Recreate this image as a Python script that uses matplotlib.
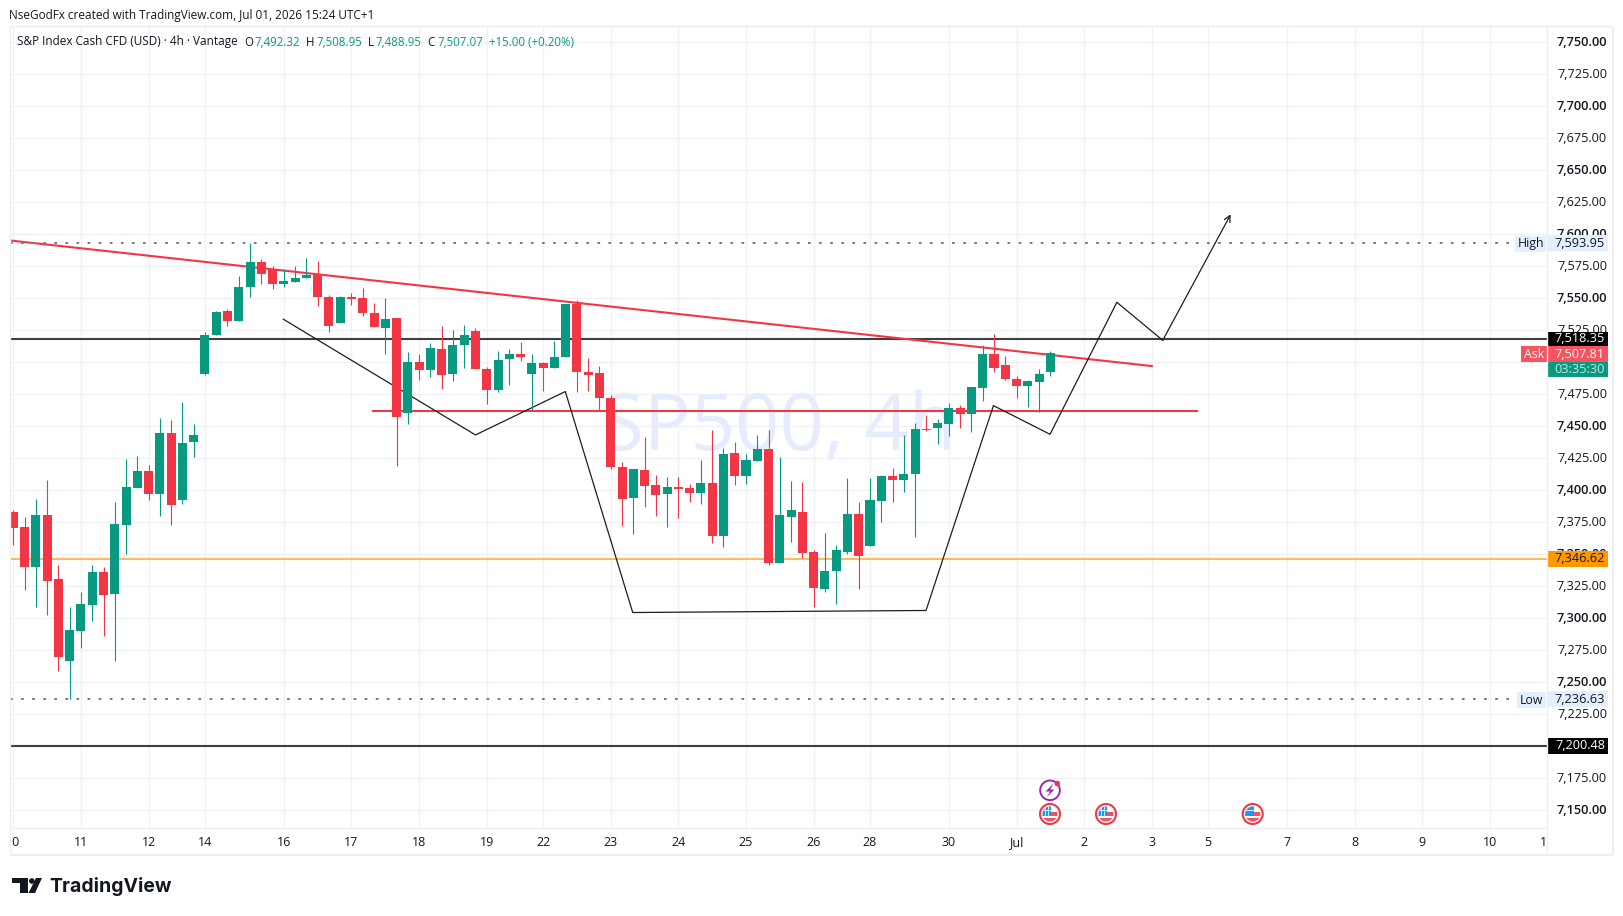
import matplotlib
matplotlib.use('Agg')
import matplotlib.pyplot as plt
from matplotlib.patches import Rectangle, Circle, Polygon

# 4h candles
opens = [7383.1, 7371.4, 7340.4, 7380.8, 7330.7, 7266.9, 7290.3, 7310.7, 7336.2, 7319.3,
         7373.2, 7402.1, 7415.2, 7397.4, 7444.9, 7392.0, 7437.3, 7491.0, 7521.0, 7540.2,
         7531.9, 7558.5, 7578.6, 7572.3, 7560.8, 7562.4, 7565.5, 7568.4, 7551.2, 7530.4,
         7551.2, 7550.4, 7538.7, 7526.4, 7534.8, 7460.0, 7500.4, 7493.6, 7510.5, 7490.5,
         7513.1, 7524.6, 7494.9, 7478.0, 7502.2, 7506.6, 7490.5, 7499.6, 7495.1, 7503.7,
         7545.7, 7492.5, 7491.8, 7472.2, 7418.3, 7394.3, 7415.9, 7404.2, 7397.4, 7402.6,
         7401.9, 7398.2, 7405.8, 7364.6, 7429.2, 7411.5, 7423.2, 7432.3, 7343.5, 7379.4,
         7383.1, 7351.8, 7323.0, 7336.6, 7352.0, 7381.7, 7356.7, 7391.8, 7411.4, 7408.3,
         7413.0, 7448.1, 7448.9, 7452.0, 7464.5, 7459.9, 7480.2, 7506.8, 7498.2, 7487.2,
         7481.7, 7484.9, 7492.32]
highs = [7384.7, 7379.2, 7393.3, 7408.1, 7341.7, 7308.8, 7320.6, 7341.7, 7340.1, 7390.9,
         7424.6, 7426.9, 7419.9, 7456.6, 7455.0, 7469.1, 7451.9, 7523.8, 7540.2, 7541.8,
         7567.6, 7593.0, 7580.9, 7575.4, 7573.1, 7575.4, 7581.7, 7579.3, 7552.8, 7552.0,
         7554.3, 7558.2, 7546.5, 7550.4, 7534.8, 7508.2, 7506.6, 7515.2, 7528.5, 7525.4,
         7529.3, 7526.9, 7496.4, 7509.0, 7510.5, 7516.0, 7506.6, 7500.4, 7516.8, 7545.7,
         7548.8, 7503.5, 7497.2, 7474.6, 7422.2, 7416.7, 7441.7, 7412.0, 7410.4, 7410.4,
         7405.0, 7423.7, 7447.2, 7433.1, 7437.8, 7428.4, 7443.3, 7447.2, 7426.1, 7407.3,
         7406.5, 7353.4, 7366.8, 7357.4, 7409.8, 7391.1, 7409.8, 7412.2, 7417.6, 7443.4,
         7452.8, 7459.1, 7456.0, 7468.5, 7466.9, 7481.0, 7513.8, 7522.4, 7505.2, 7489.6,
         7486.4, 7495.0, 7508.95]
lows = [7357.3, 7322.1, 7309.1, 7302.6, 7258.8, 7236.63, 7276.8, 7297.9, 7286.2, 7266.6,
        7350.3, 7402.1, 7392.5, 7380.0, 7372.9, 7389.4, 7426.1, 7490.2, 7521.0, 7528.5,
        7531.9, 7551.2, 7561.4, 7557.5, 7559.0, 7562.4, 7565.5, 7544.2, 7523.8, 7530.4,
        7544.9, 7536.3, 7527.2, 7506.6, 7419.1, 7452.1, 7486.3, 7488.6, 7479.2, 7485.5,
        7495.7, 7494.4, 7467.5, 7476.9, 7482.4, 7501.1, 7462.8, 7477.7, 7495.1, 7503.7,
        7476.9, 7477.7, 7462.8, 7416.7, 7372.1, 7365.9, 7387.0, 7380.0, 7371.4, 7378.4,
        7390.9, 7389.3, 7358.8, 7355.7, 7404.2, 7405.0, 7423.2, 7341.6, 7343.5, 7359.6,
        7347.1, 7308.8, 7320.7, 7311.3, 7350.4, 7323.0, 7356.7, 7375.4, 7391.1, 7398.9,
        7363.7, 7446.6, 7436.4, 7442.7, 7448.9, 7445.8, 7470.0, 7492.7, 7486.4, 7472.4,
        7465.3, 7461.4, 7488.95]
closes = [7370.9, 7340.4, 7380.8, 7329.4, 7270.0, 7290.9, 7311.2, 7336.2, 7318.5, 7373.7,
          7402.7, 7415.2, 7397.4, 7444.9, 7388.8, 7437.1, 7443.3, 7521.5, 7539.5, 7531.9,
          7559.0, 7578.6, 7568.7, 7560.8, 7563.7, 7566.1, 7568.4, 7550.7, 7528.0, 7551.2,
          7549.1, 7538.2, 7527.2, 7534.0, 7456.9, 7500.4, 7493.6, 7511.3, 7489.7, 7513.6,
          7521.5, 7494.4, 7478.0, 7501.9, 7506.6, 7503.7, 7499.6, 7495.1, 7504.3, 7545.7,
          7492.0, 7489.7, 7471.7, 7417.8, 7393.5, 7416.7, 7403.7, 7395.9, 7402.6, 7401.1,
          7398.2, 7405.8, 7364.6, 7428.4, 7411.5, 7423.7, 7432.3, 7343.5, 7380.7, 7384.6,
          7351.3, 7323.9, 7337.1, 7353.5, 7381.7, 7348.8, 7392.6, 7411.4, 7408.3, 7413.0,
          7448.1, 7447.3, 7452.8, 7464.5, 7459.9, 7481.0, 7506.8, 7495.8, 7487.2, 7481.7,
          7485.7, 7491.1, 7507.07]

# time axis
date_bars = [0, 6, 12, 17, 24, 30, 36, 42, 47, 53, 59, 65, 71, 76, 83, 89, 95, 101, 106, 113, 119, 125, 131, 136.1]
date_labels = ['10', '11', '12', '14', '16', '17', '18', '19', '22', '23', '24', '25', '26', '28', '30',
               'Jul', '2', '3', '5', '7', '8', '9', '10', '11']

# price axis
price_ticks = [7150, 7175, 7200, 7225, 7250, 7275, 7300, 7325, 7350, 7375, 7400, 7425, 7450,
               7475, 7500, 7525, 7550, 7575, 7600, 7625, 7650, 7675, 7700, 7725, 7750]
hidden_ticks = [7200, 7500]  # sit fully behind the level boxes

# levels
black_levels = [7518.35, 7200.48]
orange_level = 7346.62
ask_price = 7507.81
high_price = 7593.95
high_line = 7592.9
low_price = 7236.63

# drawings (bar index, price)
trend_x = [-0.3, 101.0]
trend_y = [7595.1, 7497.0]
support_x = [31.9, 105.0]
support_y = [7461.9, 7461.9]
pattern_x = [23.95, 41.0, 48.97, 54.95, 80.97, 86.95, 91.97, 97.9, 101.97]
pattern_y = [7533.6, 7443.2, 7477.1, 7304.5, 7306.1, 7466.1, 7443.7, 7546.8, 7517.1]
arrow_tip = (108.0, 7615.5)

GREEN = '#089981'
RED = '#f23645'
GRID = '#f0f1f4'
TEXT = '#131722'

plt.rcParams['font.family'] = ['Open Sans', 'DejaVu Sans']

W, H = 1623, 916
fig = plt.figure(figsize=(W / 100, H / 100), dpi=100, facecolor='white')


def px_axes(left, top, right, bottom):
    return fig.add_axes([left / W, 1 - bottom / H, (right - left) / W, (bottom - top) / H])


ax = px_axes(10, 26, 1547, 828)
ax.set_xticks(date_bars)
ax.set_yticks(price_ticks)
# limits after the ticks, set_xticks widens the view otherwise
ax.set_xlim(-0.295, 136.06)
ax.set_ylim(7136.2, 7762.6)
ax.grid(True, color=GRID, lw=1)
ax.set_axisbelow(True)
ax.tick_params(length=0, labelbottom=False, labelleft=False)
for s in ax.spines.values():
    s.set_visible(False)

# watermark
ax.text(0.5, 0.497, 'SP500, 4h', transform=ax.transAxes, ha='center', va='center',
        fontsize=56, color='#e6ebfd', zorder=1)

# levels and drawings go under the candles
xl = ax.get_xlim()
ax.hlines(black_levels, xl[0], xl[1], color='#3f3f3f', lw=1.5, zorder=2)
ax.hlines(orange_level, xl[0], xl[1], color='#ffb95e', lw=1.5, zorder=2)
ax.plot(trend_x, trend_y, color=RED, lw=1.5, zorder=2)
ax.plot(support_x, support_y, color=RED, lw=1.5, zorder=2)
ax.plot(pattern_x, pattern_y, color='#1e1e1e', lw=0.9, zorder=2)
ax.annotate('', xy=arrow_tip, xytext=(pattern_x[-1], pattern_y[-1]), zorder=2,
            arrowprops=dict(arrowstyle='->', color='#1e1e1e', lw=0.9, mutation_scale=11,
                            shrinkA=0, shrinkB=0))
high_x = [xl[0], 133.3]
ax.plot(high_x, [high_line, high_line], color='#787b86', lw=1.4, ls=(0, (1.4, 4.3)), zorder=2)
ax.plot(high_x, [low_price, low_price], color='#787b86', lw=1.4, ls=(0, (1.4, 4.3)), zorder=2)

# candles
bars = range(len(opens))
colors = [GREEN if c >= o else RED for o, c in zip(opens, closes)]
ax.vlines(bars, lows, highs, color=colors, lw=0.8, zorder=3)
ax.bar(bars, [abs(c - o) for o, c in zip(opens, closes)], bottom=[min(o, c) for o, c in zip(opens, closes)],
       width=0.8, color=colors, lw=0, zorder=4)
ax.set_xlim(-0.295, 136.06)

# date labels, clipped at the pane edges like the screenshot
tax = px_axes(10, 828, 1547, 855)
tax.set_xlim(-0.295, 136.06)
tax.set_ylim(0, 1)
tax.axis('off')
for b, lab in zip(date_bars, date_labels):
    tax.text(b, 0.46, lab, ha='center', va='center', fontsize=9, color=TEXT, clip_on=True)

# price scale
pax = px_axes(1547, 26, 1613, 855)
pax.set_xlim(1547, 1613)
pax.set_ylim(ax.get_ylim()[0] - 27 / 1.2805, ax.get_ylim()[1])
pax.axis('off')
for p in price_ticks:
    if p in hidden_ticks:
        continue
    pax.text(1607, p - 0.4, f'{p:,.2f}', ha='right', va='center', fontsize=9.2, color=TEXT,
             weight='semibold' if p % 50 == 0 else 'normal', zorder=2)


def price_box(price, label, bg, fg, y_shift=0.0, h=15):
    y = price + y_shift
    dh = h / 1.2805
    pax.add_patch(Rectangle((1548, y - dh / 2), 60, dh, color=bg, lw=0, zorder=3))
    pax.text(1580, y, label, ha='center', va='center', fontsize=9.2, color=fg, zorder=4)


price_box(high_line, f'{high_price:,.2f}', '#e3effd', TEXT, h=16)
price_box(low_price, f'{low_price:,.2f}', '#e3effd', TEXT, h=16)
price_box(black_levels[0], f'{black_levels[0]:,.2f}', '#000000', 'white', h=14)
price_box(black_levels[1], f'{black_levels[1]:,.2f}', '#000000', 'white', h=16)
price_box(orange_level, f'{orange_level:,.2f}', '#ff9800', TEXT, h=16)
price_box(ask_price, f'{ask_price:,.2f}', '#f7525f', 'white', y_shift=-1.4, h=16)
price_box(ask_price, '03:35:30', GREEN, '#c2e6df', y_shift=-13.7, h=15)

# chrome in pixel coordinates
ov = fig.add_axes([0, 0, 1, 1], zorder=10)
ov.set_xlim(0, W)
ov.set_ylim(H, 0)
ov.axis('off')
ov.patch.set_alpha(0)

for x0, y0, x1, y1 in [(10, 26, 1613, 26), (10, 855, 1613, 855), (10, 26, 10, 855),
                       (1613, 26, 1613, 855), (1547, 26, 1547, 855), (10, 828, 1547, 828)]:
    ov.plot([x0, x1], [y0, y1], color='#eceef2', lw=1.4 if y0 == 855 or x0 == 1613 else 1, solid_capstyle='butt')

ov.text(9, 15, 'NseGodFx created with TradingView.com, Jul 01, 2026 15:24 UTC+1', fontsize=8.5,
        color=TEXT, va='center')
ov.text(17, 42, 'S&P Index Cash CFD (USD) · 4h · Vantage', fontsize=8.5, color=TEXT, va='center')
for x, key, val in [(244, 'O', '7,492.32'), (306, 'H', '7,508.95'), (368, 'L', '7,488.95'), (427, 'C', '7,507.07')]:
    ov.text(x, 42, key, fontsize=8.3, color=TEXT, va='center')
    ov.text(x + (10 if key != 'L' else 7), 42, val, fontsize=8.3, color=GREEN, va='center')
ov.text(489, 42, '+15.00 (+0.20%)', fontsize=8.3, color=GREEN, va='center')

# High / Low / Ask tags
ov.add_patch(Rectangle((1515, 235.5), 31, 16, color='#e3effd', lw=0))
ov.text(1531, 243.5, 'High', ha='center', va='center', fontsize=8.8, color=TEXT)
ov.add_patch(Rectangle((1517, 692), 29, 16, color='#e3effd', lw=0))
ov.text(1531.5, 700.5, 'Low', ha='center', va='center', fontsize=8.8, color=TEXT)
ov.add_patch(Rectangle((1521, 346), 26, 16, color='#f7525f', lw=0))
ov.text(1534, 354, 'Ask', ha='center', va='center', fontsize=8.8, color='white')


def flag(cx, cy):
    ov.add_patch(Circle((cx, cy), 10, fc='white', ec=RED, lw=1.5))
    clip = Circle((cx, cy), 7.6, transform=ov.transData)
    parts = [Rectangle((cx - 1, cy - 2), 9, 3.8, color='#f0555f', lw=0),
             Rectangle((cx - 8, cy + 3.6), 16, 4.4, color='#f0555f', lw=0),
             Rectangle((cx - 8, cy - 8), 9, 9.5, color='#2196f3', lw=0),
             Rectangle((cx - 5, cy - 8), 0.6, 9.5, color='#cfe6fb', lw=0),
             Rectangle((cx - 2, cy - 8), 0.6, 9.5, color='#cfe6fb', lw=0),
             Rectangle((cx - 8, cy - 4), 9, 0.6, color='#cfe6fb', lw=0)]
    for part in parts:
        ov.add_patch(part)
        part.set_clip_path(clip)


for cx in [1050, 1106, 1252.7]:
    flag(cx, 814)

# earnings-like purple marker
ov.add_patch(Circle((1050, 790.3), 9.8, fc='white', ec='#9c27b0', lw=1.4))
ov.add_patch(Polygon([(1053.5, 783.5), (1045.5, 791.5), (1050, 791.5), (1046.8, 797), (1054.5, 789.5),
                      (1050.3, 789.5)], color='#9c27b0', lw=0))
ov.add_patch(Circle((1057.3, 783.5), 2.8, color=RED, lw=0))

# TradingView logo
LOGO = '#131722'
ov.add_patch(Polygon([(12, 878), (28, 878), (28, 893), (20, 893), (20, 883), (12, 883)], color=LOGO, lw=0))
ov.add_patch(Circle((31.8, 881), 2.8, color=LOGO, lw=0))
ov.add_patch(Polygon([(36, 878), (42, 878), (35, 893), (28.5, 893)], color=LOGO, lw=0))
ov.text(49, 886, 'TradingView', fontsize=14, family='Inter', weight='bold', color=LOGO, va='center')

fig.savefig('out.png', dpi=100, facecolor='white')
